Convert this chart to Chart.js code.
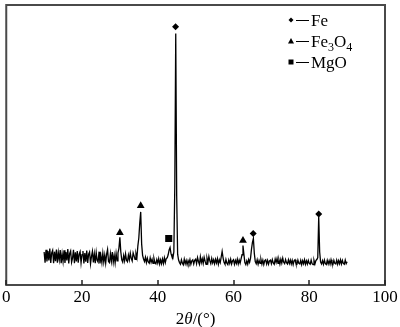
<!DOCTYPE html>
<html>
<head>
<meta charset="utf-8">
<script src="https://cdn.jsdelivr.net/npm/chart.js@4"></script>
<style>
  html, body { margin: 0; padding: 0; background: #fff; }
  #wrap { width: 400px; height: 327px; }
</style>
</head>
<body>
<div id="wrap"><canvas id="xrd"></canvas></div>
<script>
// diffraction pattern, sampled every 0.25 deg from 10 deg to 90 deg
var startAngle = 10;
var stepAngle = 0.25;
var intensity = [
    118, 80, 126, 84, 121, 88, 130, 79, 115, 124, 78, 119, 85, 127, 80, 116, 90, 125, 78, 112,
    84, 124, 79, 118, 88, 128, 77, 113, 122, 81, 96, 126, 78, 117, 84, 121, 80, 110, 119, 79,
    108, 121, 77, 114, 83, 123, 79, 110, 118, 76, 102, 120, 81, 111, 78, 116, 88, 82, 119, 77,
    104, 80, 114, 82, 107, 78, 110, 127, 84, 80, 112, 85, 118, 81, 106, 79, 113, 86, 115, 131,
    170, 118, 90, 82, 105, 86, 111, 88, 83, 107, 90, 114, 95, 86, 115, 104, 92, 112, 97, 140,
    168, 221, 261, 146, 106, 93, 84, 99, 80, 96, 82, 78, 97, 81, 92, 77, 95, 80, 76, 91,
    78, 94, 75, 90, 76, 93, 77, 97, 80, 95, 97, 108, 125, 134, 112, 101, 96, 118, 352, 898,
    318, 110, 89, 80, 74, 90, 78, 72, 92, 76, 88, 73, 87, 77, 91, 74, 86, 90, 75, 88,
    92, 76, 98, 84, 74, 101, 80, 94, 77, 99, 85, 74, 96, 81, 102, 86, 76, 95, 79, 90,
    76, 92, 79, 94, 74, 90, 80, 100, 120, 97, 81, 74, 91, 78, 73, 89, 77, 92, 75, 86,
    90, 74, 88, 77, 92, 75, 89, 78, 93, 108, 141, 110, 80, 73, 86, 74, 91, 81, 96, 128,
    152, 166, 112, 84, 76, 90, 74, 88, 77, 91, 75, 89, 73, 87, 90, 75, 88, 74, 86, 89,
    76, 91, 79, 74, 93, 80, 95, 77, 90, 75, 92, 78, 96, 81, 76, 91, 80, 75, 90, 77,
    89, 75, 88, 73, 87, 90, 76, 74, 89, 77, 75, 88, 73, 87, 76, 90, 74, 86, 75, 88,
    77, 74, 89, 76, 73, 88, 75, 87, 91, 98, 244, 118, 82, 75, 87, 74, 89, 76, 73, 88,
    75, 87, 74, 90, 76, 73, 88, 77, 75, 89, 74, 87, 76, 90, 75, 88, 77, 74, 89, 76,
    83
];

// phase markers placed above their peaks
var feAngles = [44.7, 65.2, 82.5];
var feHeights = [922, 184, 254];
var fe3o4Angles = [30.0, 35.5, 62.5];
var fe3o4Heights = [187, 283, 159];
var mgoAngles = [42.9];
var mgoHeights = [166];

var xTicks = [0, 20, 40, 60, 80, 100];

var serif = "'Liberation Serif', 'Times New Roman', serif";

function pairs(xs, ys) {
    var out = [];
    for (var i = 0; i < xs.length; i++) {
        out.push({ x: xs[i], y: ys[i] });
    }
    return out;
}

var patternPoints = [];
for (var i = 0; i < intensity.length; i++) {
    patternPoints.push({ x: startAngle + i * stepAngle, y: intensity[i] });
}

function drawMarker(ctx, style, x, y, r) {
    ctx.beginPath();
    if (style === 'diamond') {
        ctx.moveTo(x, y - r);
        ctx.lineTo(x + r, y);
        ctx.lineTo(x, y + r);
        ctx.lineTo(x - r, y);
    } else if (style === 'triangle') {
        ctx.moveTo(x, y - r);
        ctx.lineTo(x + r, y + r * 0.8);
        ctx.lineTo(x - r, y + r * 0.8);
    } else {
        ctx.rect(x - r, y - r, 2 * r, 2 * r);
    }
    ctx.closePath();
    ctx.fill();
}

// frame, inward ticks, axis title and the phase legend
var decorations = {
    id: 'decorations',
    afterDraw: function(chart) {
        var ctx = chart.ctx;
        var area = chart.chartArea;
        var xScale = chart.scales.x;
        ctx.save();

        ctx.strokeStyle = '#4a4a4a';
        ctx.lineWidth = 2;
        ctx.strokeRect(area.left, area.top, area.right - area.left, area.bottom - area.top);

        ctx.lineWidth = 1.5;
        ctx.strokeStyle = '#222';
        xTicks.forEach(function(t) {
            var px = Math.round(xScale.getPixelForValue(t));
            ctx.beginPath();
            ctx.moveTo(px, area.bottom);
            ctx.lineTo(px, area.bottom - 5);
            ctx.stroke();
        });

        // axis title 2θ/(°)
        ctx.fillStyle = '#000';
        ctx.textBaseline = 'alphabetic';
        var parts = [
            { t: '2', f: '17px ' + serif },
            { t: 'θ', f: 'italic 17px ' + serif },
            { t: '/(°)', f: '17px ' + serif }
        ];
        var total = 0;
        parts.forEach(function(p) { ctx.font = p.f; total += ctx.measureText(p.t).width; });
        var tx = (area.left + area.right) / 2 - total / 2;
        parts.forEach(function(p) {
            ctx.font = p.f;
            ctx.fillText(p.t, tx, 324);
            tx += ctx.measureText(p.t).width;
        });

        // legend
        var rows = [
            { style: 'diamond', r: 2.5, y: 20, text: [['Fe', 0]] },
            { style: 'triangle', r: 3, y: 41, text: [['Fe', 0], ['3', 1], ['O', 0], ['4', 1]] },
            { style: 'square', r: 2.5, y: 62, text: [['MgO', 0]] }
        ];
        rows.forEach(function(row) {
            drawMarker(ctx, row.style, 291, row.y, row.r);
            ctx.lineWidth = 1;
            ctx.strokeStyle = '#000';
            ctx.beginPath();
            ctx.moveTo(296, row.y + 0.5);
            ctx.lineTo(309, row.y + 0.5);
            ctx.stroke();
            var lx = 311;
            row.text.forEach(function(seg) {
                ctx.font = seg[1] ? '12px ' + serif : '17px ' + serif;
                ctx.fillText(seg[0], lx, row.y + 6 + (seg[1] ? 4 : 0));
                lx += ctx.measureText(seg[0]).width;
            });
        });

        ctx.restore();
    }
};

var ctx = document.getElementById('xrd').getContext('2d');
var xrdChart = new Chart(ctx, {
    type: 'line',
    data: {
        datasets: [{
            label: 'pattern',
            data: patternPoints,
            borderColor: '#000',
            borderWidth: 1.3,
            pointRadius: 0,
            tension: 0,
            fill: false
        }, {
            label: 'Fe',
            data: pairs(feAngles, feHeights),
            showLine: false,
            pointStyle: 'rectRot',
            pointRadius: 3.5,
            backgroundColor: '#000',
            borderWidth: 0
        }, {
            label: 'Fe3O4',
            data: pairs(fe3o4Angles, fe3o4Heights),
            showLine: false,
            pointStyle: 'triangle',
            pointRadius: 4.5,
            backgroundColor: '#000',
            borderWidth: 0
        }, {
            label: 'MgO',
            data: pairs(mgoAngles, mgoHeights),
            showLine: false,
            pointStyle: 'rect',
            pointRadius: 5,
            backgroundColor: '#000',
            borderWidth: 0
        }]
    },
    options: {
        responsive: true,
        maintainAspectRatio: false,
        animation: false,
        layout: { padding: { top: 1, left: 5, right: 15, bottom: 0 } },
        plugins: {
            legend: { display: false },
            tooltip: { enabled: false }
        },
        scales: {
            x: {
                type: 'linear',
                min: 0,
                max: 100,
                afterBuildTicks: function(scale) {
                    scale.ticks = xTicks.map(function(v) { return { value: v }; });
                },
                afterFit: function(scale) { scale.height = 42; },
                grid: { display: false, drawTicks: false },
                border: { display: false },
                ticks: {
                    padding: 2,
                    maxRotation: 0,
                    color: '#000',
                    font: { family: serif, size: 17 }
                }
            },
            y: {
                display: false,
                min: 0,
                max: 1000
            }
        }
    },
    plugins: [decorations]
});
</script>
</body>
</html>
